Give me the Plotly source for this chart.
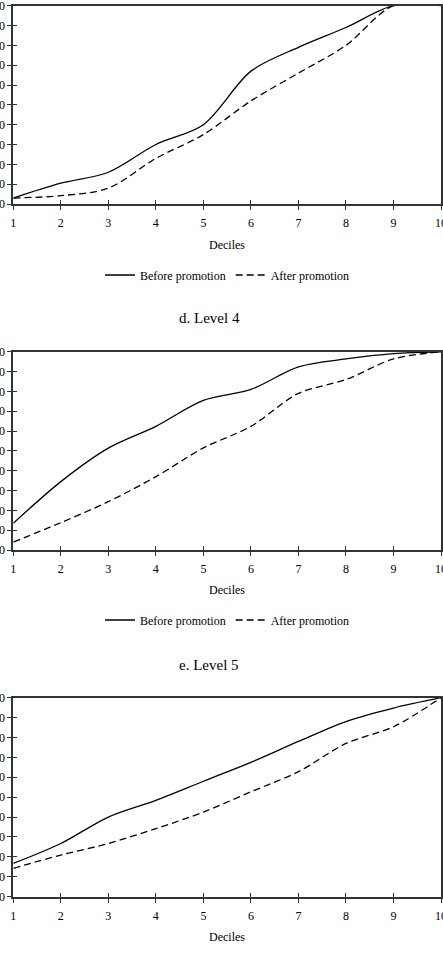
import plotly.graph_objects as go

deciles = [1, 2, 3, 4, 5, 6, 7, 8, 9, 10]
x_ticks = [1, 2, 3, 4, 5, 6, 7, 8, 9, 10]
y_ticks = [0, 10, 20, 30, 40, 50, 60, 70, 80, 90, 100]
y_tick_labels = ["0", "10", "20", "30", "40", "50", "60", "70", "80", "90", "100"]

# Panel c (top, level 3 - title above the crop)
level3_before = [3, 10.5, 16, 30, 40, 67, 79, 89, 100, 100]
level3_after = [3, 4.2, 8, 23, 35, 52, 66, 80, 100, 100]
# Panel d. Level 4
level4_before = [13.5, 34.5, 51.4, 62.4, 75.5, 81, 92.4, 96.4, 99.1, 100]
level4_after = [4, 13.8, 24.4, 37, 51.5, 62.4, 79, 86, 96.4, 100]
# Panel e. Level 5
level5_before = [16.7, 26.7, 40, 48.4, 58, 67.5, 78, 88, 94.8, 100]
level5_after = [14.2, 20.9, 26.7, 34.2, 42.5, 52.7, 62.8, 77, 85.4, 100]

series_names = ["Before promotion", "After promotion"]
panel_titles = ["d. Level 4", "e. Level 5"]
x_title = "Deciles"

panels = [(level3_before, level3_after), (level4_before, level4_after), (level5_before, level5_after)]

H = 955.0
W = 443.0
# plot-area pixel bounds (top, bottom) per panel
px_bounds = [(5.7, 204.0), (351.8, 550.0), (697.7, 896.6)]
x_dom = [13.3 / W, 441.0 / W]

FONT = "Liberation Serif"
LINE = "#333333"

fig = go.Figure()
layout = dict(
    width=443, height=955,
    margin=dict(l=0, r=0, t=0, b=0, autoexpand=False),
    paper_bgcolor="white", plot_bgcolor="white",
    font=dict(family=FONT, size=12, color="black"),
    showlegend=True,
)

legend_names = ["legend", "legend2", None]

for i, (before, after) in enumerate(panels):
    n = i + 1
    ov = i + 4
    xs = "" if n == 1 else str(n)
    top, bot = px_bounds[i]
    ydom = [(H - bot) / H, (H - top) / H]
    leg = legend_names[i]

    tr_b = dict(x=deciles, y=before, name=series_names[0], mode="lines",
                line=dict(color="black", width=1.3, shape="spline", smoothing=0.9),
                xaxis="x" + xs, yaxis="y" + xs, hoverinfo="skip",
                showlegend=leg is not None)
    tr_a = dict(x=deciles, y=after, name=series_names[1], mode="lines",
                line=dict(color="black", width=1.3, dash="7px,4px", shape="spline", smoothing=0.9),
                xaxis="x" + str(ov), yaxis="y" + str(ov), hoverinfo="skip",
                showlegend=leg is not None)
    if leg is not None:
        tr_b["legend"] = leg
        tr_a["legend"] = leg
    fig.add_trace(go.Scatter(**tr_b))
    fig.add_trace(go.Scatter(**tr_a))

    layout["xaxis" + xs] = dict(
        domain=x_dom, anchor="y" + xs, range=[1, 10], tickvals=x_ticks,
        ticks="outside", ticklen=4, tickwidth=1, tickcolor=LINE,
        showline=True, linecolor=LINE, linewidth=1.8, mirror=True,
        showgrid=False, zeroline=False, fixedrange=True, automargin=False,
        ticklabeloverflow="allow", ticklabelstandoff=3,
        tickfont=dict(family=FONT, size=12, color="black"),
    )
    layout["yaxis" + xs] = dict(
        domain=ydom, anchor="x" + xs, range=[0, 100], tickvals=y_ticks, ticktext=y_tick_labels,
        ticks="outside", ticklen=4, tickwidth=1, tickcolor=LINE,
        showline=True, linecolor=LINE, linewidth=1.8, mirror=True,
        showgrid=False, zeroline=False, fixedrange=True, automargin=False,
        ticklabeloverflow="allow",
        tickfont=dict(family=FONT, size=12, color="black"),
    )
    # overlay axes for inside ticks (crossing tick marks)
    layout["xaxis" + str(ov)] = dict(
        overlaying="x" + xs, anchor="y" + str(ov), range=[1, 10], tickvals=x_ticks,
        ticks="inside", ticklen=4, tickwidth=1, tickcolor=LINE, automargin=False,
        showticklabels=False, showline=False, showgrid=False, zeroline=False, fixedrange=True,
    )
    layout["yaxis" + str(ov)] = dict(
        overlaying="y" + xs, anchor="x" + str(ov), range=[0, 100], tickvals=y_ticks,
        ticks="inside", ticklen=4, tickwidth=1, tickcolor=LINE, automargin=False,
        showticklabels=False, showline=False, showgrid=False, zeroline=False, fixedrange=True,
    )

annotations = []
deciles_y = [244.8, 589.5, 937.2]
for yy in deciles_y:
    annotations.append(dict(text=x_title, xref="paper", yref="paper", x=227.0 / W, y=(H - yy) / H,
                            xanchor="center", yanchor="middle", showarrow=False,
                            font=dict(family=FONT, size=12, color="black")))
title_y = [318.0, 665.0]
for t, yy in zip(panel_titles, title_y):
    annotations.append(dict(text=t, xref="paper", yref="paper", x=209.0 / W, y=(H - yy) / H,
                            xanchor="center", yanchor="middle", showarrow=False,
                            font=dict(family=FONT, size=15, color="black")))
layout["annotations"] = annotations

leg_common = dict(orientation="h", xanchor="center", yanchor="middle", x=227.0 / W,
                  bgcolor="rgba(0,0,0,0)", font=dict(family=FONT, size=12, color="black"),
                  itemwidth=30, tracegroupgap=0)
layout["legend"] = dict(leg_common, y=(H - 275.0) / H)
layout["legend2"] = dict(leg_common, y=(H - 620.0) / H)

fig.update_layout(**layout)
fig.write_html("out.html")
